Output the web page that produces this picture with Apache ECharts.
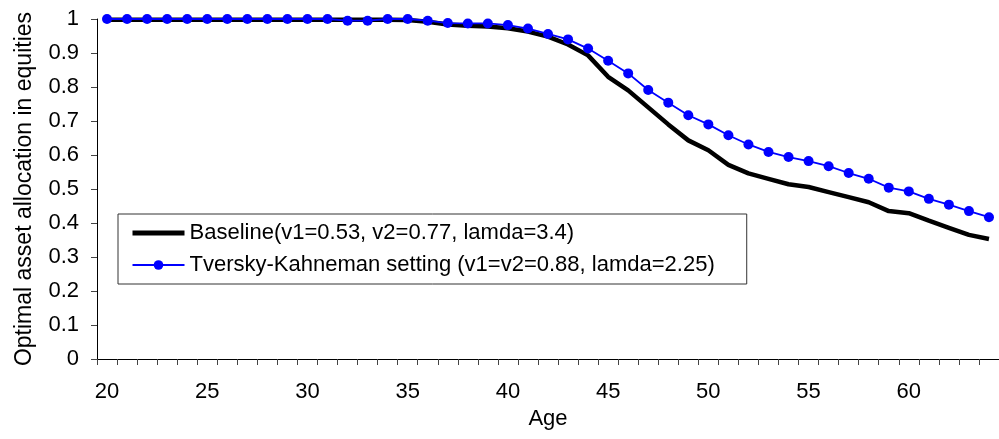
<!DOCTYPE html>
<html>
<head>
<meta charset="utf-8">
<script src="https://cdn.jsdelivr.net/npm/echarts@6/dist/echarts.min.js"></script>
<style>
html,body{margin:0;padding:0;background:#fff;}
#c{width:999px;height:439px;}
</style>
</head>
<body>
<div id="c"></div>
<script>
const ages = [20,21,22,23,24,25,26,27,28,29,30,31,32,33,34,35,36,37,38,39,40,41,42,43,44,45,46,47,48,49,50,51,52,53,54,55,56,57,58,59,60,61,62,63,64];
const baseline = [0.998,0.998,0.998,0.998,0.998,0.998,0.998,0.998,0.998,0.998,0.998,0.998,0.998,0.998,0.998,0.997,0.992,0.984,0.980,0.978,0.973,0.963,0.948,0.925,0.893,0.830,0.790,0.740,0.690,0.643,0.614,0.571,0.546,0.530,0.514,0.506,0.491,0.476,0.461,0.435,0.429,0.407,0.386,0.365,0.353];
const tk = [1.0,1.0,1.0,1.0,1.0,1.0,1.0,1.0,1.0,1.0,1.0,1.0,0.995,0.995,1.0,1.0,0.995,0.988,0.987,0.987,0.982,0.972,0.956,0.940,0.913,0.877,0.840,0.791,0.754,0.717,0.690,0.658,0.631,0.609,0.594,0.582,0.567,0.547,0.530,0.504,0.493,0.471,0.454,0.435,0.417];
const nameBaseline = 'Baseline(v1=0.53, v2=0.77, lamda=3.4)';
const nameTK = 'Tversky-Kahneman setting (v1=v2=0.88, lamda=2.25)';
const xTitle = 'Age';
const yTitle = 'Optimal asset allocation in equities';

const FONT = 'Liberation Sans, Arial, sans-serif';
const chart = echarts.init(document.getElementById('c'), null, {renderer: 'canvas'});
chart.setOption({
  animation: false,
  backgroundColor: '#fff',
  grid: {left: 97, top: 19, width: 909, bottom: 80},
  legend: {
    orient: 'vertical',
    left: 118, top: 214,
    padding: [8, 32, 8, 12],
    itemWidth: 52, itemHeight: 12, itemGap: 10,
    borderColor: '#333', borderWidth: 1, backgroundColor: '#fff',
    textStyle: {fontFamily: FONT, fontSize: 22, color: '#000', lineHeight: 22},
    data: [
      {name: nameBaseline, itemStyle: {opacity: 0}, lineStyle: {width: 5, color: '#000'}},
      {name: nameTK}
    ]
  },
  xAxis: {
    type: 'category', data: ages, boundaryGap: true,
    name: xTitle, nameLocation: 'middle', nameGap: 48,
    nameTextStyle: {fontFamily: FONT, fontSize: 22, color: '#000'},
    axisLine: {lineStyle: {color: '#000', width: 1}},
    axisTick: {show: true, interval: 0, length: 6, lineStyle: {color: '#444'}},
    axisLabel: {interval: 4, margin: 22, fontFamily: FONT, fontSize: 22, color: '#000'},
    splitLine: {show: false}
  },
  yAxis: {
    type: 'value', min: 0, max: 1, interval: 0.1,
    name: yTitle, nameLocation: 'middle', nameGap: 61,
    nameTextStyle: {fontFamily: FONT, fontSize: 23, color: '#000'},
    axisLine: {show: true, lineStyle: {color: '#000', width: 1}},
    axisTick: {show: true, length: 6, lineStyle: {color: '#444'}},
    axisLabel: {margin: 18, fontFamily: FONT, fontSize: 22, color: '#000'},
    splitLine: {show: false}
  },
  series: [
    {
      name: nameBaseline, type: 'line', data: baseline,
      symbol: 'none', lineStyle: {color: '#000', width: 4.5},
      itemStyle: {color: '#000'}, z: 2
    },
    {
      name: nameTK, type: 'line', data: tk,
      symbol: 'circle', symbolSize: 10, showSymbol: true,
      lineStyle: {color: '#0000ff', width: 1.8},
      itemStyle: {color: '#0000ff'}, z: 3
    }
  ]
});
</script>
</body>
</html>
